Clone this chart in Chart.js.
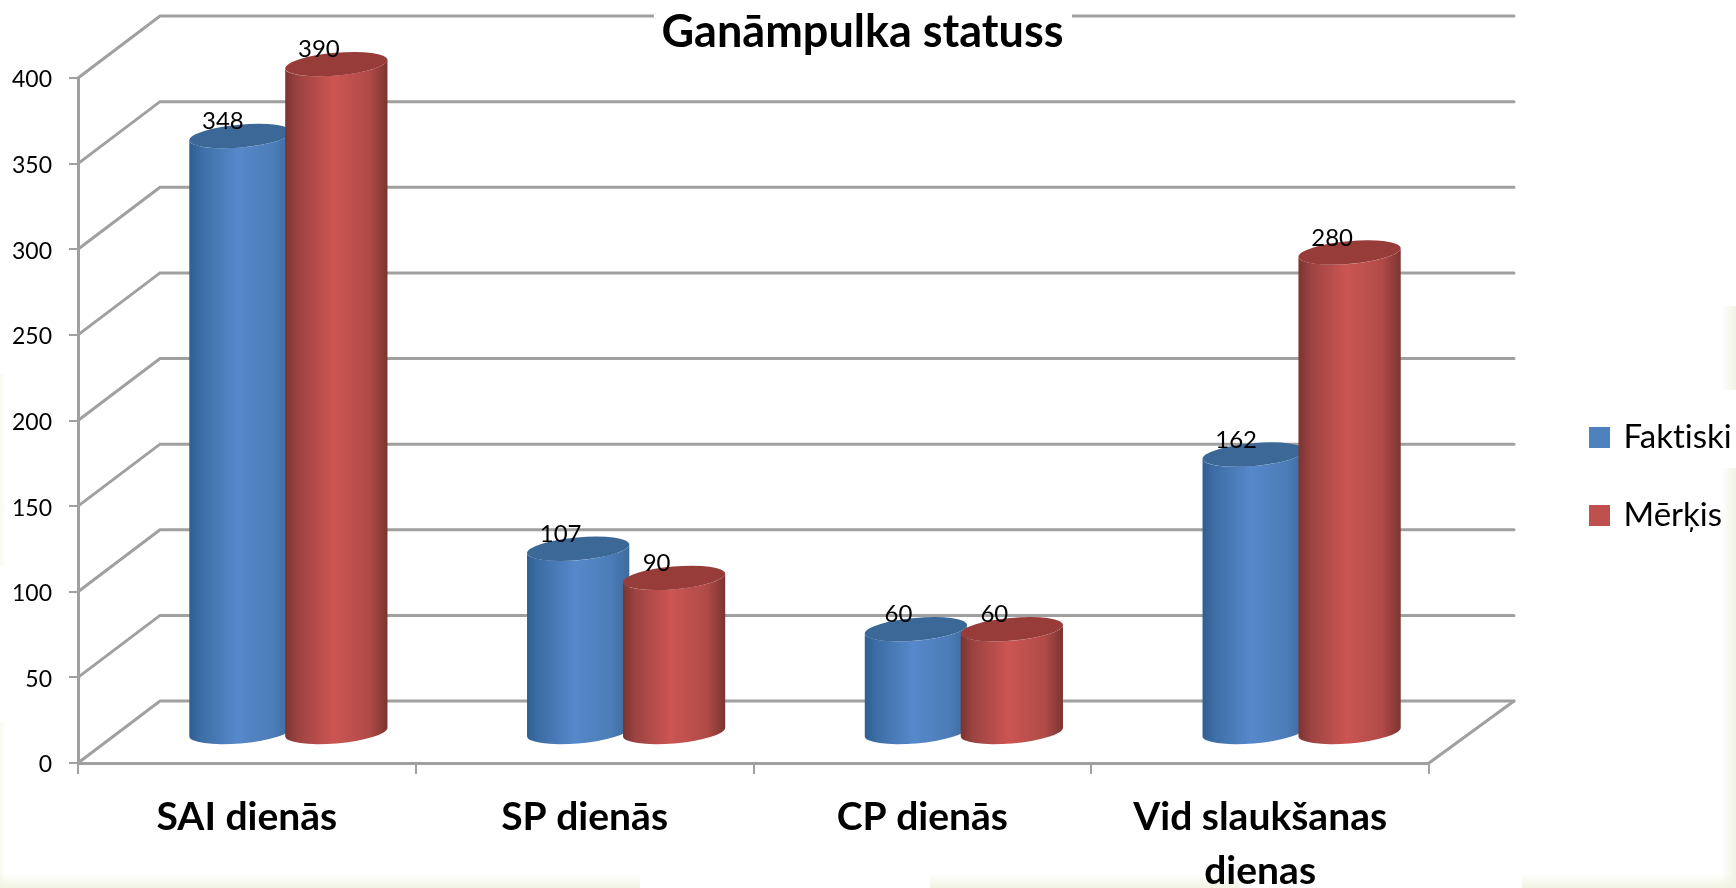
<!DOCTYPE html>
<html><head><meta charset="utf-8">
<style>
html,body{margin:0;padding:0;background-color:#fff}
body{width:1736px;height:888px;overflow:hidden;background-repeat:no-repeat;background-image:
linear-gradient(to top,#f1f4e4,rgba(255,255,255,0)),linear-gradient(to top,#f1f4e4,rgba(255,255,255,0)),linear-gradient(to top,#f1f4e4,rgba(255,255,255,0)),
linear-gradient(to left,#eff2e3,rgba(255,255,255,0)),linear-gradient(to left,#eff2e3,rgba(255,255,255,0)),
linear-gradient(to right,#f8f9f0,rgba(255,255,255,0)),linear-gradient(to right,#f8f9f0,rgba(255,255,255,0));
background-position:0 874px,930px 874px,1522px 874px,1722px 306px,1722px 468px,0 374px,0 722px;
background-size:640px 14px,310px 14px,214px 14px,14px 84px,14px 420px,6px 192px,6px 166px}
canvas{display:block}
</style>
<script src="https://cdn.jsdelivr.net/npm/chart.js@4"></script>
</head><body><canvas id="c" width="1736" height="888"></canvas>
<script>
const categories = ['SAI dienās', 'SP dienās', 'CP dienās', ['Vid slaukšanas', 'dienas']];
const faktiski = [348, 107, 60, 162];
const merkis = [390, 90, 60, 280];
const seriesNames = ['Faktiski', 'Mērķis'];
const titleText = 'Ganāmpulka statuss';
const FONT = 'Lato, Carlito, Calibri, sans-serif';
const GRID = '#a0a0a0';
const DEPTH = {dx: 82, dy: -62};
const SKINS = [
  {stops: ['#2f5f92', '#3d6ea6', '#5688cb', '#4c7db8', '#3d6a9e'], cap: '#3b6897'},
  {stops: ['#7a3432', '#9c4341', '#cc5552', '#b04b48', '#7c3431'], cap: '#973c39'}
];

Chart.BarElement.prototype.draw = function () {};

function cylinder(ctx, bar, skin) {
  const p = bar.getProps(['x', 'y', 'base', 'width'], true);
  const cx = p.x + DEPTH.dx / 2 + 0.5, top = p.y + DEPTH.dy / 2, bot = p.base + DEPTH.dy / 2 + 1;
  const R = p.width * 0.535, r = 11.4, th = -5 * Math.PI / 180;
  const t0 = Math.atan(-(r / R) * Math.tan(th));
  const xh = Math.hypot(R * Math.cos(th), r * Math.sin(th));
  const g = ctx.createLinearGradient(cx - xh, 0, cx + xh, 0);
  [0, 0.12, 0.47, 0.82, 1].forEach((o, i) => g.addColorStop(o, skin.stops[i]));
  ctx.save();
  ctx.beginPath();
  ctx.ellipse(cx, bot, R, r, th, t0 + Math.PI, t0, true);
  ctx.ellipse(cx, top, R, r, th, t0, t0 + Math.PI, false);
  ctx.closePath();
  ctx.fillStyle = g;
  ctx.fill();
  ctx.beginPath();
  ctx.ellipse(cx, top, R, r, th, 0, Math.PI * 2);
  ctx.fillStyle = skin.cap;
  ctx.fill();
  ctx.restore();
}

const threeD = {
  id: 'threeD',
  beforeLayout(chart) {
    const lg = chart.legend;
    if (!lg._wideFit) {
      const fit = lg.fit;
      lg.fit = function () { fit.call(this); this.width = 307; };
      lg._wideFit = true;
    }
  },
  afterLayout(chart) {
    chart.legend.left = 1547;
    chart.legend.top = 376;
    chart.titleBlock.right = 1725;
  },
  beforeDraw(chart) {
    const ctx = chart.ctx, y = chart.scales.y, a = chart.chartArea;
    ctx.textRendering = 'optimizeSpeed';
    ctx.save();
    ctx.strokeStyle = GRID;
    ctx.lineWidth = 3;
    ctx.lineCap = 'round';
    y.ticks.forEach(t => {
      const py = y.getPixelForValue(t.value);
      ctx.beginPath();
      ctx.moveTo(a.left, py);
      ctx.lineTo(a.left + DEPTH.dx, py + DEPTH.dy);
      ctx.lineTo(a.right + DEPTH.dx + 3, py + DEPTH.dy);
      ctx.stroke();
    });
    const py0 = y.getPixelForValue(0);
    ctx.beginPath();
    ctx.moveTo(a.right, py0);
    ctx.lineTo(a.right + DEPTH.dx + 3, py0 + DEPTH.dy);
    ctx.stroke();
    ctx.fillStyle = '#fff';
    ctx.fillRect(654, 0, 418, 40);
    ctx.restore();
  },
  afterDatasetsDraw(chart) {
    const ctx = chart.ctx;
    [0, 1].forEach(i => chart.getDatasetMeta(i).data.forEach(b => cylinder(ctx, b, SKINS[i])));
    ctx.save();
    ctx.fillStyle = '#000';
    ctx.font = '24px ' + FONT;
    ctx.textAlign = 'center';
    ctx.textBaseline = 'alphabetic';
    [0, 1].forEach(i => {
      const vals = chart.data.datasets[i].data;
      chart.getDatasetMeta(i).data.forEach((b, j) => {
        const p = b.getProps(['x', 'y'], true);
        ctx.fillText(String(vals[j]), p.x + DEPTH.dx / 2 - 17, p.y + DEPTH.dy / 2 - 7);
      });
    });
    ctx.restore();
  }
};

new Chart(document.getElementById('c'), {
  type: 'bar',
  data: {
    labels: categories,
    datasets: [
      {label: seriesNames[0], data: faktiski, backgroundColor: '#4f81bd', borderColor: '#4f81bd', borderWidth: 6},
      {label: seriesNames[1], data: merkis, backgroundColor: '#c0504d', borderColor: '#c0504d', borderWidth: 6}
    ]
  },
  options: {
    responsive: false,
    animation: false,
    layout: {padding: 0},
    datasets: {bar: {categoryPercentage: 0.568, barPercentage: 1}},
    plugins: {
      tooltip: {enabled: false},
      title: {
        display: true, text: titleText, color: '#000',
        font: {family: FONT, size: 45, weight: 'bold', lineHeight: 1},
        padding: {top: 10, bottom: 23}
      },
      legend: {
        position: 'right', align: 'start',
        labels: {color: '#000', boxWidth: 15, boxHeight: 15, padding: 45, font: {family: FONT, size: 33}}
      }
    },
    scales: {
      x: {
        afterFit(s) { s.height = 125; },
        grid: {drawOnChartArea: false, drawTicks: true, tickLength: 11, color: GRID, lineWidth: 2},
        border: {display: true, color: GRID, width: 3},
        ticks: {color: '#000', maxRotation: 0, autoSkip: false, padding: 17, font: {family: FONT, size: 39, weight: 'bold', lineHeight: 1.38}}
      },
      y: {
        min: 0, max: 400,
        afterFit(s) { s.width = 78; },
        grid: {drawOnChartArea: false, drawTicks: true, tickLength: 9, color: GRID, lineWidth: 2},
        border: {display: true, color: GRID, width: 3},
        ticks: {color: '#000', stepSize: 50, padding: 17, labelOffset: 2, font: {family: FONT, size: 23}}
      }
    }
  },
  plugins: [threeD]
});
</script></body></html>
